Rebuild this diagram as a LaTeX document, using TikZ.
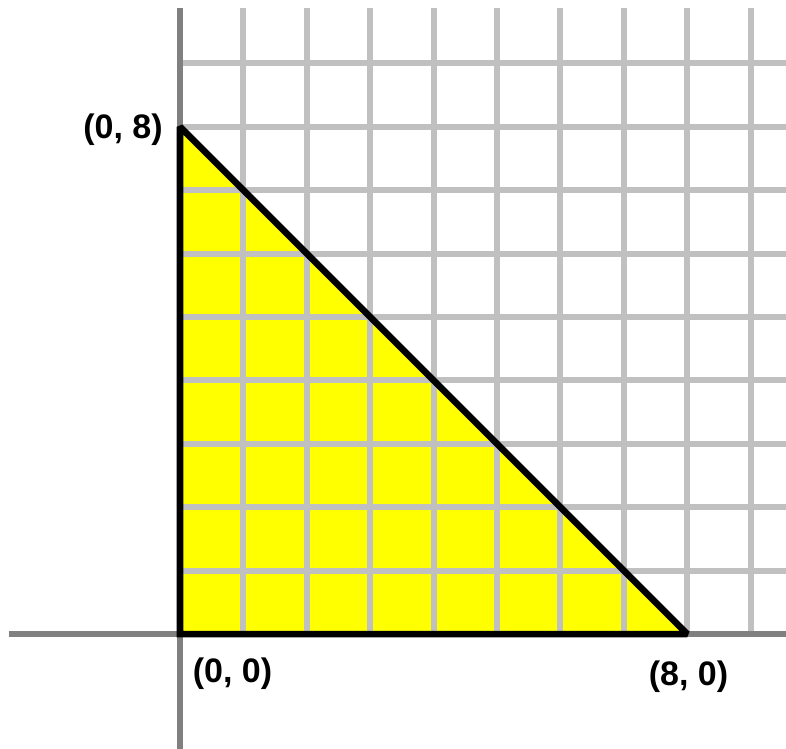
\documentclass[tikz,border=0pt]{standalone}
\usepackage{fontspec}
\setmainfont{Liberation Sans}
\begin{document}
\begin{tikzpicture}[x=63.4pt,y=63.4pt,
  gridline/.style={line width=6pt,color={rgb,255:red,192;green,192;blue,192}},
  axisline/.style={line width=6.5pt,color={rgb,255:red,128;green,128;blue,128}},
  triline/.style={line width=6.5pt,black,line join=miter,miter limit=1.5},
  trifill/.style={fill={rgb,255:red,255;green,255;blue,0}},
  lbl/.style={font=\fontsize{34}{40}\selectfont\bfseries,inner sep=0pt,text=black}]
\useasboundingbox (-2.839,-1.798) rectangle (9.558,10.0);
\coordinate (O) at (0,0);
\coordinate (A) at (8,0);
\coordinate (B) at (0,8);
\fill[trifill] (O) -- (A) -- (B) -- cycle;
\foreach \i in {1,...,9} {
  \draw[gridline] (\i,0) -- (\i,9.874);
  \draw[gridline] (0,\i) -- (9.6,\i);
}
\draw[axisline] (-2.697,0) -- (9.6,0);
\draw[axisline] (0,-1.85) -- (0,9.874);
\draw[triline] (O) -- (A) -- (B) -- cycle;
\node[lbl,anchor=east] (lb) at (-0.27,7.95) {(0, 8)};
\node[lbl,anchor=west] (lo) at (0.2,-0.62) {(0, 0)};
\node[lbl] (la) at (8.02,-0.68) {(8, 0)};
\end{tikzpicture}
\end{document}
